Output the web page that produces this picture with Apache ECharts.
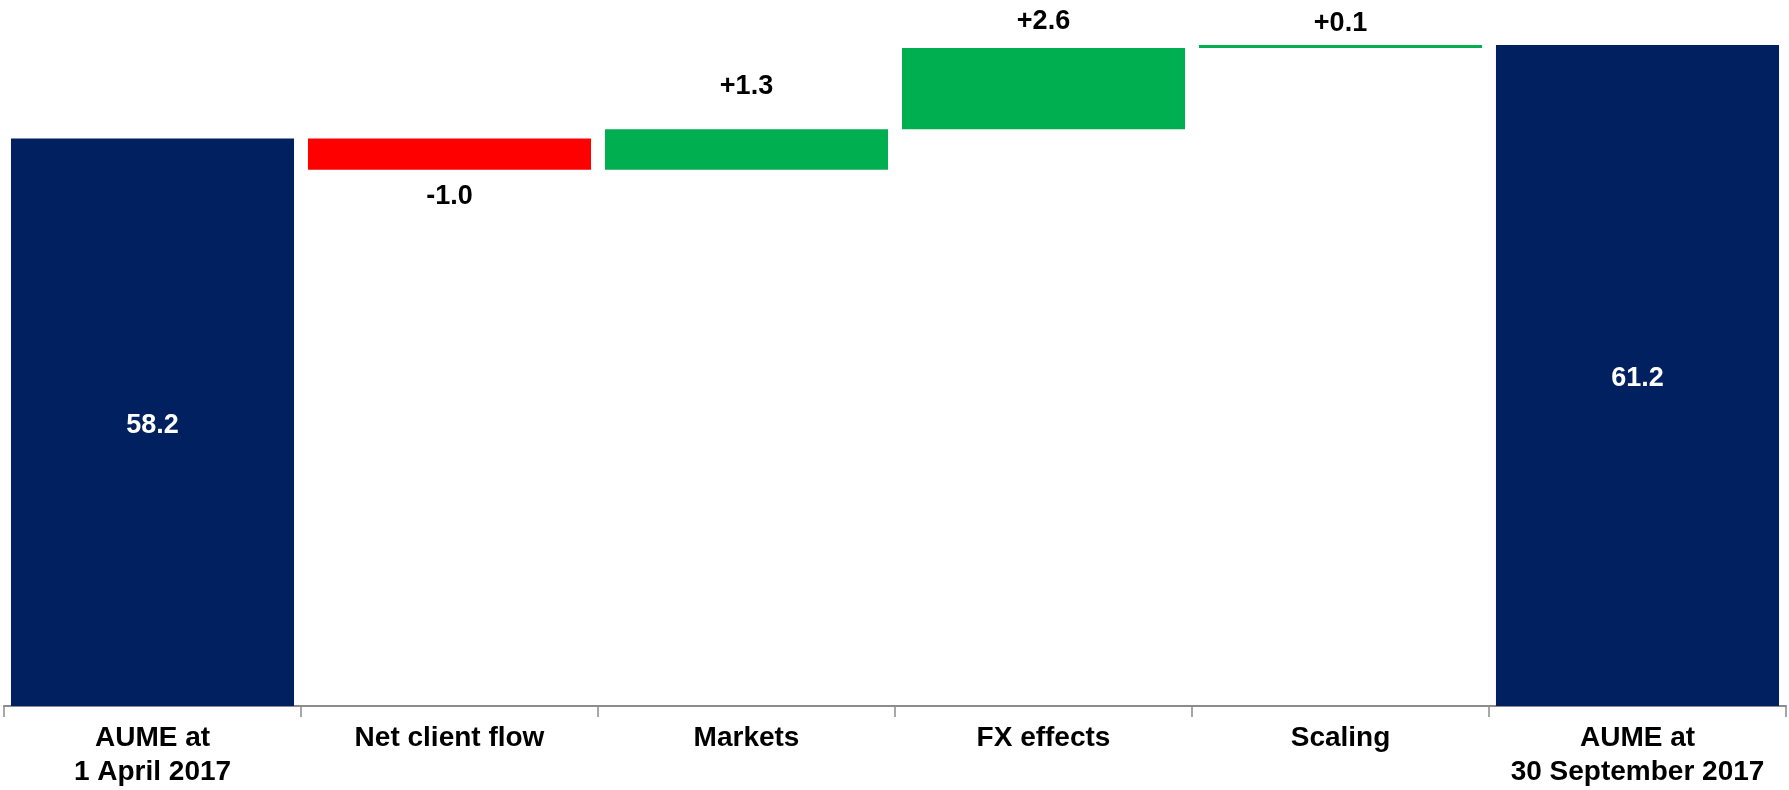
<!DOCTYPE html>
<html>
<head>
<meta charset="utf-8">
<title>AUME bridge</title>
<script src="https://cdn.jsdelivr.net/npm/echarts@6/dist/echarts.min.js"></script>
<style>
  html, body { margin: 0; padding: 0; background: #ffffff; }
  #chart { width: 1789px; height: 790px; }
</style>
</head>
<body>
<div id="chart"></div>
<script>
// Categories along the bridge
const categories = [
  'AUME at\n1 April 2017',
  'Net client flow',
  'Markets',
  'FX effects',
  'Scaling',
  'AUME at\n30 September 2017'
];

// Opening and closing assets (bn)
const openingAume = 58.2;
const closingAume = 61.2;

// Movements between the two totals, in category order
const movements = [-1.0, 1.3, 2.6, 0.1];

// Gap between each movement label and its bar (px)
const movementLabelGap = [13, 29, 13, 8];

const NAVY = '#002060';
const GREEN = '#00B050';
const RED = '#FF0000';
const FONT = '"Liberation Sans", Arial, sans-serif';

// Running level before each movement: the invisible base of each floating bar
const baseValues = [null];
const moveValues = [null];
let level = openingAume;
movements.forEach(function (m, i) {
  baseValues.push(level);
  moveValues.push({
    value: m,
    itemStyle: { color: m < 0 ? RED : GREEN },
    label: { position: m < 0 ? 'bottom' : 'top', distance: movementLabelGap[i] }
  });
  level += m;
});
baseValues.push(null);
moveValues.push(null);

const totalValues = [openingAume, null, null, null, null, closingAume];

const chart = echarts.init(document.getElementById('chart'));
chart.setOption({
  animation: false,
  backgroundColor: '#ffffff',
  grid: { left: 4, right: 3, top: 20, bottom: 84, containLabel: false },
  xAxis: {
    type: 'category',
    data: categories,
    boundaryGap: true,
    axisLine: { show: true, lineStyle: { color: '#8c8c8c', width: 2 } },
    axisTick: { show: true, length: 11, lineStyle: { color: '#8c8c8c', width: 1.5 } },
    axisLabel: {
      interval: 0,
      margin: 15,
      color: '#000000',
      fontFamily: FONT,
      fontWeight: 'bold',
      fontSize: 28,
      lineHeight: 34
    }
  },
  yAxis: {
    type: 'value',
    min: 40,
    max: 62,
    show: false,
    splitLine: { show: false }
  },
  series: [
    {
      name: 'base',
      type: 'bar',
      stack: 'bridge',
      stackStrategy: 'all',
      barCategoryGap: '4.7%',
      itemStyle: { color: 'rgba(0,0,0,0)' },
      emphasis: { disabled: true },
      data: baseValues,
      silent: true
    },
    {
      name: 'movement',
      type: 'bar',
      stack: 'bridge',
      stackStrategy: 'all',
      barCategoryGap: '4.7%',
      data: moveValues,
      label: {
        show: true,
        color: '#000000',
        fontFamily: FONT,
        fontWeight: 'bold',
        fontSize: 27,
        formatter: function (p) {
          const v = p.value;
          return (v > 0 ? '+' : '') + v.toFixed(1);
        }
      }
    },
    {
      name: 'total',
      type: 'bar',
      barGap: '-100%',
      barCategoryGap: '4.7%',
      itemStyle: { color: NAVY },
      data: totalValues,
      label: {
        show: true,
        position: 'inside',
        offset: [0, 3],
        color: '#ffffff',
        fontFamily: FONT,
        fontWeight: 'bold',
        fontSize: 27,
        formatter: function (p) { return p.value.toFixed(1); }
      }
    }
  ]
});
</script>
</body>
</html>
